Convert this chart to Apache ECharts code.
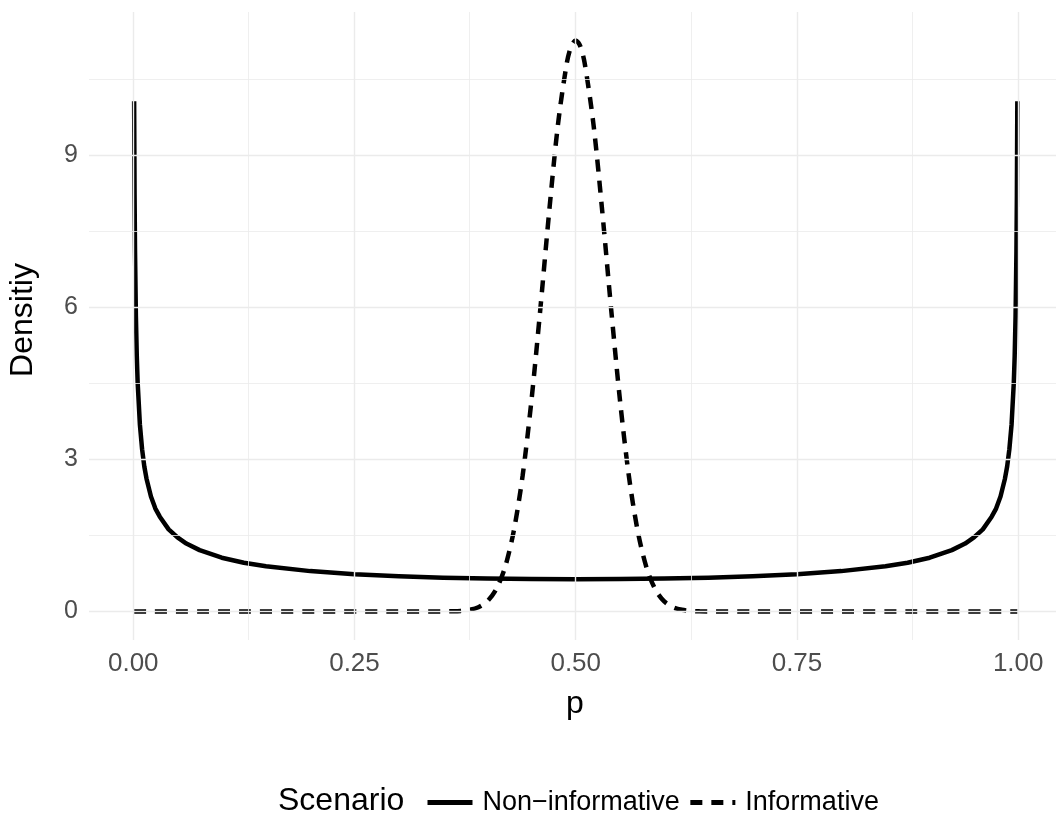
<!DOCTYPE html>
<html>
<head>
<meta charset="utf-8">
<script src="https://cdn.jsdelivr.net/npm/echarts@6/dist/echarts.min.js"></script>
<style>html,body{margin:0;padding:0;background:#fff}#c{width:1056px;height:815px}</style>
</head>
<body>
<div id="c"></div>
<script>
// Non-informative prior
const nonInfX = [0.001,0.0015,0.002,0.003,0.004,0.005,0.0075,0.01,0.0125,0.015,0.02,0.025,0.03,0.04,0.05,0.06,0.075,0.1,0.125,0.15,0.2,0.25,0.3,0.35,0.4,0.45,0.5,0.55,0.6,0.65,0.7,0.75,0.8,0.85,0.875,0.9,0.925,0.94,0.95,0.96,0.97,0.975,0.98,0.985,0.9875,0.99,0.9925,0.995,0.996,0.997,0.998,0.9985,0.999];
const nonInfY = [10.07,8.22,7.12,5.82,5.04,4.51,3.69,3.20,2.86,2.62,2.27,2.03,1.87,1.62,1.46,1.34,1.21,1.06,0.962,0.891,0.796,0.735,0.695,0.667,0.650,0.640,0.637,0.640,0.650,0.667,0.695,0.735,0.796,0.891,0.962,1.06,1.21,1.34,1.46,1.62,1.87,2.03,2.27,2.62,2.86,3.20,3.69,4.51,5.04,5.82,7.12,8.22,10.07];
// Informative prior
const infX = [0.001,0.30,0.35,0.36,0.37,0.38,0.39,0.40,0.41,0.42,0.43,0.44,0.45,0.46,0.47,0.48,0.49,0.495,0.5,0.505,0.51,0.52,0.53,0.54,0.55,0.56,0.57,0.58,0.59,0.60,0.61,0.62,0.63,0.64,0.65,0.70,0.999];
const infY = [0,0,0.001,0.0035,0.011,0.032,0.083,0.198,0.432,0.865,1.59,2.68,4.17,5.97,7.89,9.62,10.83,11.16,11.27,11.16,10.83,9.62,7.89,5.97,4.17,2.68,1.59,0.865,0.432,0.198,0.083,0.032,0.011,0.0035,0.001,0,0];
const xTicks = [0,0.25,0.5,0.75,1];
const yTicks = [0,3,6,9];
const xMinor = [0.125,0.375,0.625,0.875];
const yMinor = [1.5,4.5,7.5,10.5];
const seriesNames = ['Non\u2212informative','Informative'];

const pairs = (xs, ys) => xs.map((x,i)=>[x,ys[i]]);
const gridLines = [
  ...xTicks.map(v=>({xAxis:v,lineStyle:{width:1.4}})),
  ...yTicks.map(v=>({yAxis:v,lineStyle:{width:1.4}})),
  ...xMinor.map(v=>({xAxis:v,lineStyle:{width:0.8}})),
  ...yMinor.map(v=>({yAxis:v,lineStyle:{width:0.8}}))
];
const FONT = 'Liberation Sans, Arial, sans-serif';
const chart = echarts.init(document.getElementById('c'));
chart.setOption({
  animation:false,
  backgroundColor:'#fff',
  grid:{left:89,top:12,right:0,height:628,containLabel:false},
  xAxis:{type:'value',min:-0.05,max:1.0427,
    axisLine:{show:false},axisTick:{show:false},splitLine:{show:false},
    axisLabel:{customValues:xTicks,formatter:v=>v.toFixed(2),color:'#4d4d4d',fontSize:26,fontFamily:FONT,margin:11}},
  yAxis:{type:'value',min:-0.5635,max:11.83,
    axisLine:{show:false},axisTick:{show:false},splitLine:{show:false},
    axisLabel:{customValues:yTicks,color:'#4d4d4d',fontSize:25,fontFamily:FONT,margin:11}},
  legend:{data:seriesNames,left:420,top:784,itemWidth:45,itemHeight:14,itemGap:8,
    itemStyle:{color:'transparent',borderColor:'transparent',borderWidth:0,opacity:0},
    lineStyle:{width:5},
    textStyle:{fontSize:27,color:'#000',fontFamily:FONT,padding:[0,0,0,5]}},
  graphic:[
    {type:'text',x:278,y:801,style:{text:'Scenario',font:'32px "Liberation Sans", Arial',fill:'#000',verticalAlign:'middle'}},
    {type:'text',x:23,y:320,rotation:Math.PI/2,style:{text:'Densitiy',font:'32px "Liberation Sans", Arial',fill:'#000',align:'center',verticalAlign:'middle'}},
    {type:'text',x:575,y:704,style:{text:'p',font:'32px "Liberation Sans", Arial',fill:'#000',align:'center',verticalAlign:'middle'}}
  ],
  series:[
    {name:'grid',type:'line',data:[],z:0,silent:true,
      markLine:{silent:true,symbol:'none',label:{show:false},animation:false,
        lineStyle:{color:'#ebebeb',type:'solid'},data:gridLines}},
    {name:seriesNames[0],type:'line',data:pairs(nonInfX,nonInfY),showSymbol:false,symbol:'none',
      smooth:false,lineStyle:{color:'#000',width:4.5,cap:'butt',join:'round'},itemStyle:{color:'#000'},z:3},
    {name:seriesNames[1],type:'line',data:pairs(infX,infY),showSymbol:false,symbol:'none',
      smooth:0.3,lineStyle:{color:'#000',width:4.5,type:[12,9],cap:'butt'},itemStyle:{color:'#000'},z:4}
  ]
});
</script>
</body>
</html>
